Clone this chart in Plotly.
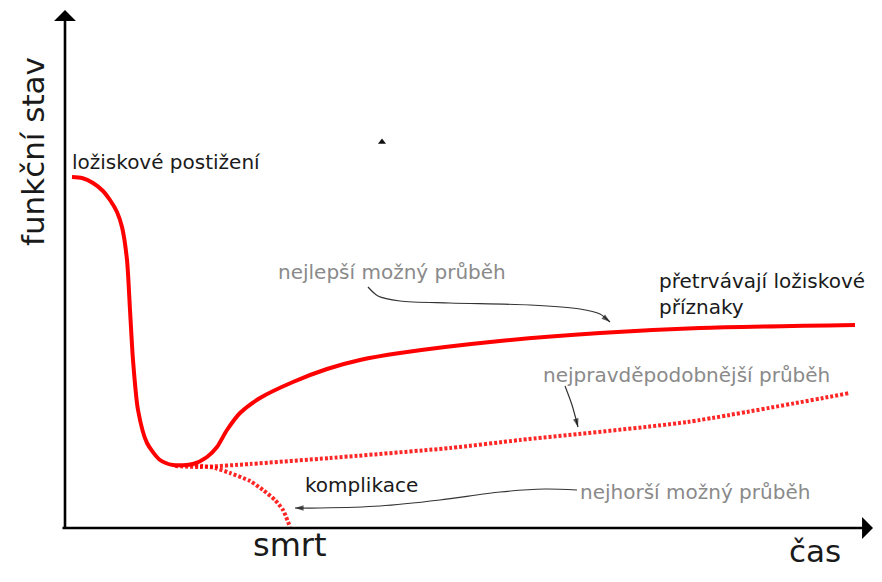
import plotly.graph_objects as go

# Schematic course of functional state over time (arbitrary units)
best_t = [7, 17, 28, 38, 45, 52, 57, 62, 65, 68, 73, 82, 95, 108, 128, 142, 152, 162,
          175, 195, 228, 262, 295, 335, 435, 535, 635, 790]
best_state = [351, 350, 345, 337, 328, 316, 301, 268, 218, 168, 118, 85, 68, 63, 64, 71, 81, 98,
              115, 130, 146, 159, 168, 175, 187, 195, 200, 203]

likely_t = [110, 135, 185, 265, 385, 455, 622, 785]
likely_state = [62, 61, 64, 70, 80, 88, 106, 135]

worst_t = [130, 150, 165, 185, 198, 210, 218, 225]
worst_state = [63, 60, 55, 47, 38, 28, 18, 1]

# pointer curves from labels to the curves
ptr_best_t = [303, 313, 335, 385, 465, 515, 535, 545]
ptr_best_s = [241, 232, 227, 225, 223, 219, 214, 206]
ptr_likely_t = [500, 507, 513]
ptr_likely_s = [142, 123, 101]
ptr_worst_t = [512, 480, 435, 375, 315, 255, 230]
ptr_worst_s = [38, 39, 36, 28, 22, 20, 20]

RED = "#ff0000"
GREY = "#8a8a8a"
INK = "#1a1a1a"
FONT = "DejaVu Sans"

fig = go.Figure()

fig.add_trace(go.Scatter(x=best_t, y=best_state, mode="lines",
                         line=dict(color=RED, width=4, shape="spline", smoothing=0.7)))
fig.add_trace(go.Scatter(x=likely_t, y=likely_state, mode="lines",
                         line=dict(color="rgba(255,0,0,0.85)", width=4, dash="3px,2px",
                                   shape="spline", smoothing=0.6)))
fig.add_trace(go.Scatter(x=worst_t, y=worst_state, mode="lines",
                         line=dict(color="rgba(255,0,0,0.85)", width=4, dash="3px,2px",
                                   shape="spline", smoothing=0.6)))

for xs, ys in [(ptr_best_t, ptr_best_s), (ptr_likely_t, ptr_likely_s), (ptr_worst_t, ptr_worst_s)]:
    sizes = [0] * (len(xs) - 1) + [9]
    fig.add_trace(go.Scatter(
        x=xs, y=ys, mode="lines+markers",
        line=dict(color="#333333", width=1.2, shape="spline", smoothing=0.8),
        marker=dict(symbol="arrow", size=sizes, angleref="previous", color="#111111",
                    line=dict(width=0)),
    ))

# stray tiny arrowhead
fig.add_trace(go.Scatter(x=[317], y=[386], mode="markers",
                         marker=dict(symbol="triangle-up", size=7, color="#111111")))

# axes with arrowheads
axis_style = dict(showarrow=True, arrowhead=1, arrowsize=1.4, arrowwidth=2.6,
                  arrowcolor="#000000", axref="x", ayref="y", text="")
fig.add_annotation(x=0, y=518, ax=0, ay=-2, **axis_style)
fig.add_annotation(x=808, y=0, ax=-4, ay=0, **axis_style)

labels = [
    ("funkční stav", -32, 376, 31, INK, "center", -90),
    ("ložiskové postižení", 5, 366, 20, INK, "left", 0),
    ("nejlepší možný průběh", 327, 256, 20, GREY, "center", 0),
    ("přetrvávají ložiskové<br>příznaky", 592, 234, 20, INK, "left", 0),
    ("nejpravděpodobnější průběh", 476, 153, 20, GREY, "left", 0),
    ("komplikace", 238, 43, 20, INK, "left", 0),
    ("nejhorší možný průběh", 513, 36, 20, GREY, "left", 0),
    ("smrt", 225, -17, 32, INK, "center", 0),
    ("čas", 750, -23, 31, INK, "center", 0),
]
for text, x, y, size, color, anchor, angle in labels:
    fig.add_annotation(x=x, y=y, text=text, showarrow=False, xanchor=anchor, yanchor="middle",
                       align="left", textangle=angle,
                       font=dict(family=FONT, size=size, color=color))

# page body adds an 8px margin, so the figure is 16px smaller than the window
fig.update_layout(
    width=866, height=566,
    margin=dict(l=0, r=0, t=0, b=0),
    paper_bgcolor="white", plot_bgcolor="white",
    showlegend=False,
    xaxis=dict(range=[-57, 809], visible=False, fixedrange=True),
    yaxis=dict(range=[-46, 520], visible=False, fixedrange=True),
)

fig.write_html("out.html")
